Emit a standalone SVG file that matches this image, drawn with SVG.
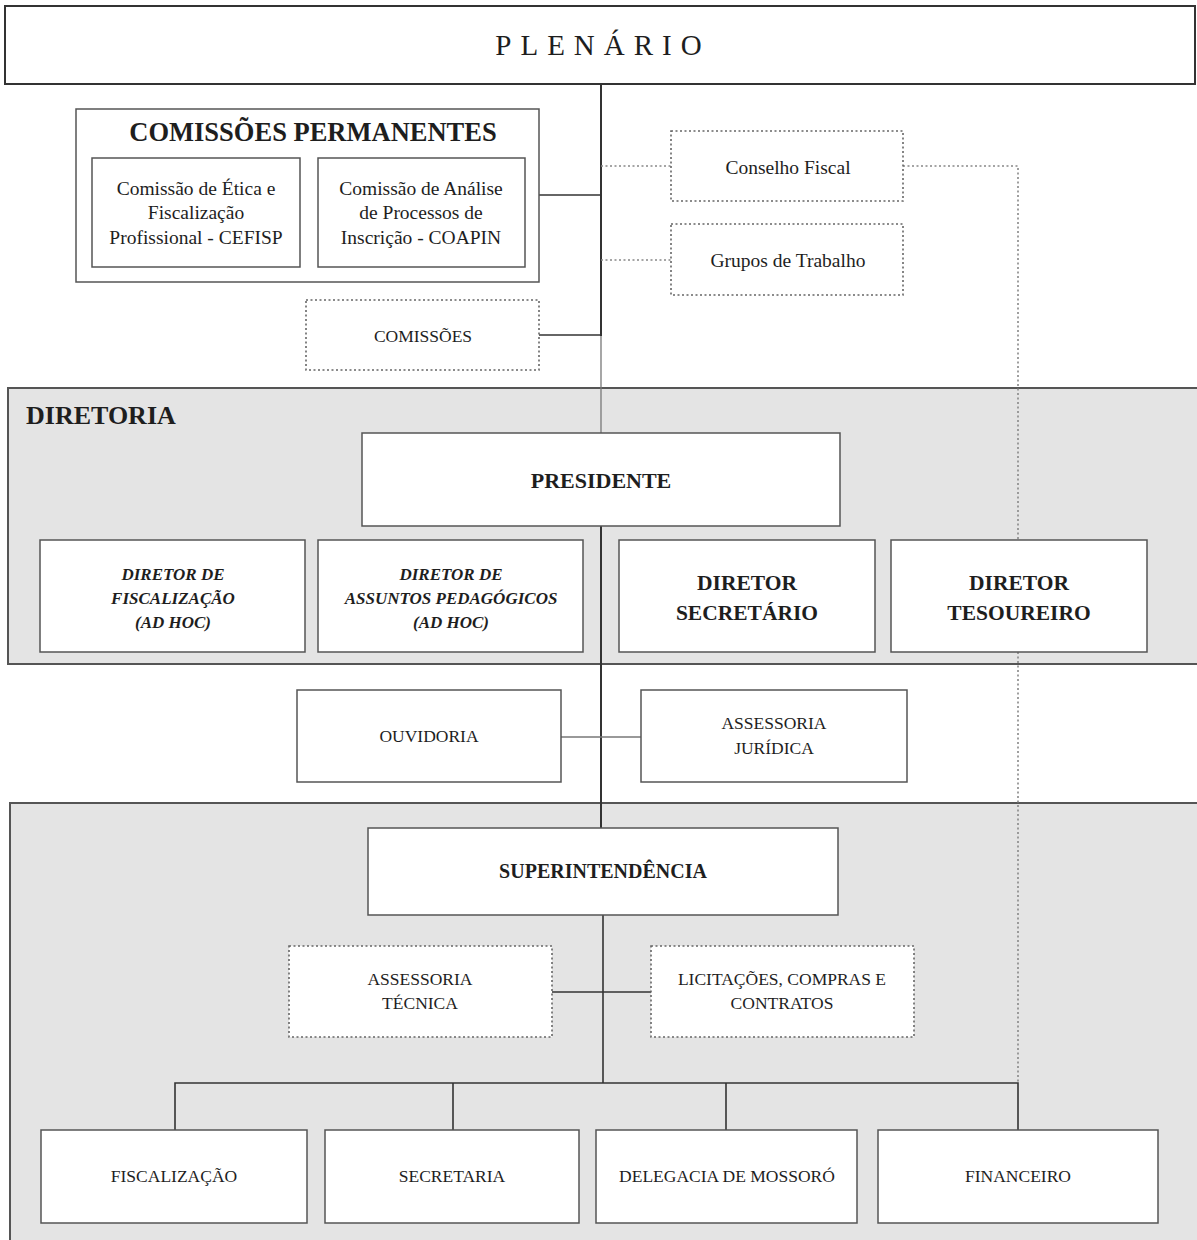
<svg xmlns="http://www.w3.org/2000/svg" width="1197" height="1240" viewBox="0 0 1197 1240">
<style>
text{font-family:"Liberation Serif","DejaVu Serif",serif;fill:#1e1e1e;text-anchor:middle}
.box{fill:#fff;stroke:#555;stroke-width:1.5}
.dbox{fill:#fff;stroke:#666;stroke-width:1.6;stroke-dasharray:2 2.5}
.area{fill:#e4e4e4;stroke:#555;stroke-width:2}
.ln{stroke:#333;stroke-width:1.6;fill:none}
.lt{stroke:#777;stroke-width:1.3;fill:none}
.dl{stroke:#888;stroke-width:1.6;stroke-dasharray:2 2.5;fill:none}
.s{font-size:19.5px}
.sm{font-size:17.5px}
.b{font-weight:bold}
.it{font-style:italic;font-weight:bold;font-size:17px}
.big{font-weight:bold;font-size:21.5px}
</style>
<rect width="1197" height="1240" fill="#fff"/>

<g id="area-diretoria"><rect class="area" x="8" y="388" width="1192" height="276"/><text x="26" y="424" class="b" style="font-size:26px;text-anchor:start">DIRETORIA</text></g>
<g id="area-super"><rect class="area" x="10" y="803" width="1192" height="440"/></g>

<g id="connectors">
<line class="ln" x1="601" y1="84" x2="601" y2="336" style="stroke-width:2"/>
<line class="lt" x1="601" y1="336" x2="601" y2="433"/>
<line class="ln" x1="539" y1="195" x2="601" y2="195"/>
<line class="ln" x1="539" y1="335" x2="601" y2="335"/>
<line class="dl" x1="601" y1="166" x2="671" y2="166"/>
<line class="dl" x1="601" y1="260" x2="671" y2="260"/>
<polyline class="dl" points="903,166 1018,166 1018,540"/>
<line class="dl" x1="1018" y1="652" x2="1018" y2="1083"/>
<line class="ln" x1="601" y1="526" x2="601" y2="828" style="stroke-width:2"/>
<line class="lt" x1="561" y1="737" x2="641" y2="737"/>
<line class="ln" x1="603" y1="915" x2="603" y2="1083"/>
<line class="ln" x1="552" y1="992" x2="651" y2="992"/>
<polyline class="ln" points="175,1130 175,1083 1018,1083 1018,1130"/>
<line class="ln" x1="453" y1="1083" x2="453" y2="1130"/>
<line class="ln" x1="726" y1="1083" x2="726" y2="1130"/>
</g>

<g id="plenario"><rect class="box" x="5" y="6" width="1190" height="78" style="stroke:#333;stroke-width:2"/><text x="603" y="55" style="font-size:29px;letter-spacing:9px">PLENÁRIO</text></g>

<g id="comissoes-permanentes"><rect class="box" x="76" y="109" width="463" height="173"/><text x="313" y="141" class="b" style="font-size:26.5px">COMISSÕES PERMANENTES</text></g>
<g id="cefisp"><rect class="box" x="92" y="158" width="208" height="109"/><text x="196" y="195" class="s">Comissão de Ética e</text><text x="196" y="219" class="s">Fiscalização</text><text x="196" y="244" class="s">Profissional - CEFISP</text></g>
<g id="coapin"><rect class="box" x="318" y="158" width="207" height="109"/><text x="421" y="195" class="s">Comissão de Análise</text><text x="421" y="219" class="s">de Processos de</text><text x="421" y="244" class="s">Inscrição - COAPIN</text></g>

<g id="conselho-fiscal"><rect class="dbox" x="671" y="131" width="232" height="70"/><text x="788" y="174" class="s">Conselho Fiscal</text></g>
<g id="grupos-trabalho"><rect class="dbox" x="671" y="224" width="232" height="71"/><text x="788" y="267" class="s">Grupos de Trabalho</text></g>
<g id="comissoes"><rect class="dbox" x="306" y="300" width="233" height="70"/><text x="423" y="342" class="sm">COMISSÕES</text></g>

<g id="presidente"><rect class="box" x="362" y="433" width="478" height="93"/><text x="601" y="488" class="b" style="font-size:22px">PRESIDENTE</text></g>
<g id="dir-fiscalizacao"><rect class="box" x="40" y="540" width="265" height="112"/><text x="173" y="580" class="it">DIRETOR DE</text><text x="173" y="604" class="it">FISCALIZAÇÃO</text><text x="173" y="628" class="it">(AD HOC)</text></g>
<g id="dir-pedagogicos"><rect class="box" x="318" y="540" width="265" height="112"/><text x="451" y="580" class="it">DIRETOR DE</text><text x="451" y="604" class="it">ASSUNTOS PEDAGÓGICOS</text><text x="451" y="628" class="it">(AD HOC)</text></g>
<g id="dir-secretario"><rect class="box" x="619" y="540" width="256" height="112"/><text x="747" y="590" class="big">DIRETOR</text><text x="747" y="620" class="big">SECRETÁRIO</text></g>
<g id="dir-tesoureiro"><rect class="box" x="891" y="540" width="256" height="112"/><text x="1019" y="590" class="big">DIRETOR</text><text x="1019" y="620" class="big">TESOUREIRO</text></g>

<g id="ouvidoria"><rect class="box" x="297" y="690" width="264" height="92"/><text x="429" y="742" class="sm">OUVIDORIA</text></g>
<g id="assessoria-juridica"><rect class="box" x="641" y="690" width="266" height="92"/><text x="774" y="729" class="sm">ASSESSORIA</text><text x="774" y="754" class="sm">JURÍDICA</text></g>

<g id="superintendencia"><rect class="box" x="368" y="828" width="470" height="87"/><text x="603" y="878" class="b" style="font-size:20px">SUPERINTENDÊNCIA</text></g>
<g id="assessoria-tecnica"><rect class="dbox" x="289" y="946" width="263" height="91"/><text x="420" y="985" class="sm">ASSESSORIA</text><text x="420" y="1009" class="sm">TÉCNICA</text></g>
<g id="licitacoes"><rect class="dbox" x="651" y="946" width="263" height="91"/><text x="782" y="985" class="sm">LICITAÇÕES, COMPRAS E</text><text x="782" y="1009" class="sm">CONTRATOS</text></g>

<g id="fiscalizacao"><rect class="box" x="41" y="1130" width="266" height="93"/><text x="174" y="1182" class="sm">FISCALIZAÇÃO</text></g>
<g id="secretaria"><rect class="box" x="325" y="1130" width="254" height="93"/><text x="452" y="1182" class="sm">SECRETARIA</text></g>
<g id="delegacia"><rect class="box" x="596" y="1130" width="261" height="93"/><text x="727" y="1182" class="sm">DELEGACIA DE MOSSORÓ</text></g>
<g id="financeiro"><rect class="box" x="878" y="1130" width="280" height="93"/><text x="1018" y="1182" class="sm">FINANCEIRO</text></g>
</svg>
